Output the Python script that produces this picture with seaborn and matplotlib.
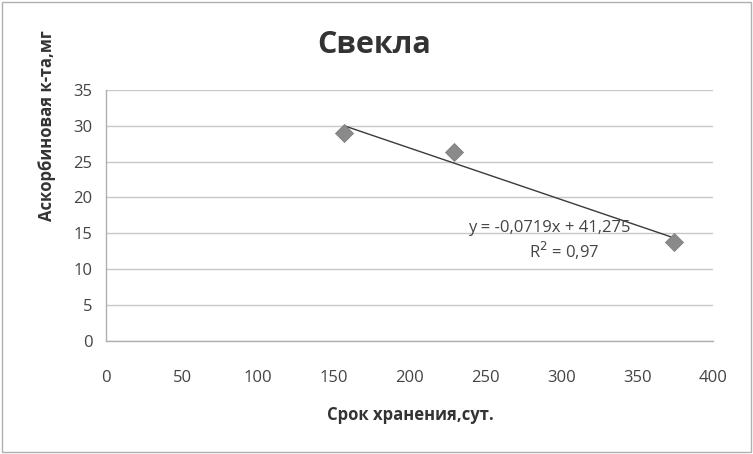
import matplotlib
matplotlib.use("Agg")
import matplotlib.pyplot as plt
import seaborn as sns
import numpy as np
import pandas as pd

days = [157, 229, 374]
vitc = [29.0, 26.4, 13.8]
trend_x = [157, 374]
slope = -0.0719
intercept = 41.275
r2_text = "0,97"
title = "Свекла"
xlabel = "Срок хранения,сут."
ylabel = "Аскорбиновая к-та,мг"
xticks = [0, 50, 100, 150, 200, 250, 300, 350, 400]
yticks = [0, 5, 10, 15, 20, 25, 30, 35]

sns.set_theme(style="white")
plt.rcParams['font.family'] = ['Open Sans', 'DejaVu Sans']

fig = plt.figure(figsize=(7.53, 4.54), dpi=100)
ax = fig.add_axes([0.141, 0.249, 0.806, 0.553])

df = pd.DataFrame({"x": days, "y": vitc})
sns.scatterplot(data=df, x="x", y="y", ax=ax, marker="D", s=85, color="#8a8a8a",
                edgecolor="#7a7a7a", linewidth=0.5, zorder=3)
tx = np.array(trend_x, dtype=float)
ax.plot(tx, slope * tx + intercept, color="#3a3a3a", lw=1.0, zorder=2)

ax.set_xlim(0, 400)
ax.set_ylim(0, 35)
ax.set_xticks(xticks)
ax.set_yticks(yticks)
ax.tick_params(axis="both", labelsize=12, colors="#9a9a9a", labelcolor="#444444",
               length=4, width=0.8, direction="out")
ax.tick_params(axis="x", pad=17)
ax.tick_params(axis="y", pad=6)
ax.yaxis.grid(True, color="#c8c8c8", lw=1.0)
ax.xaxis.grid(False)
for s in ["top", "right"]:
    ax.spines[s].set_visible(False)
for s in ["left", "bottom"]:
    ax.spines[s].set_color("#b0b0b0")
    ax.spines[s].set_linewidth(1.0)

ax.set_xlabel("")
ax.set_ylabel("")
fig.text(410 / 753, 1 - 415 / 454, xlabel, ha="center", va="center",
         fontsize=12, fontweight="bold", color="#333333")
fig.text(47 / 753, 1 - 126 / 454, ylabel, ha="center", va="center", rotation=90,
         fontsize=12, fontweight="bold", color="#333333")

fig.text(374 / 753, 1 - 45 / 454, title, ha="center", va="center",
         fontsize=22, fontweight="bold", color="#333333")

eq = "y = -0,0719x + 41,275"
ax.text(292, 15.8, eq, ha="center", va="center", fontsize=12, color="#444444")
ax.text(302, 12.5, "R$^2$ = " + r2_text, ha="center", va="center", fontsize=12, color="#444444")

border = plt.Rectangle((0.003, 0.005), 0.994, 0.99, transform=fig.transFigure,
                       fill=False, edgecolor="#b0b0b0", lw=1.0)
fig.patches.append(border)

fig.savefig("out.png", dpi=100)
